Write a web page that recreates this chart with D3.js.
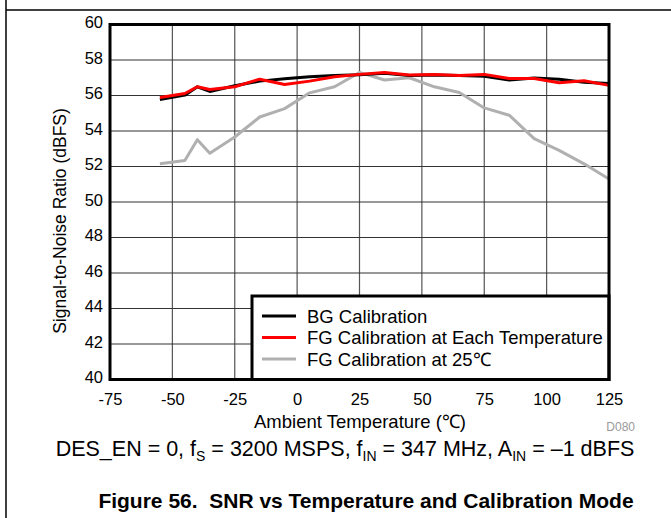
<!DOCTYPE html>
<html><head><meta charset="utf-8">
<script src="https://cdn.jsdelivr.net/npm/d3@7"></script>
<style>body{margin:0;background:#fff}svg{display:block}text{font-family:"Liberation Sans",Arial,sans-serif}</style>
</head><body>
<svg id="c" width="671" height="518"></svg>
<script>
const temps = [-55,-45,-40,-35,-25,-15,-5,5,15,25,35,45,55,65,75,85,95,105,115,125];
const bgCal = [55.77,56.02,56.49,56.23,56.55,56.81,56.94,57.06,57.13,57.17,57.25,57.13,57.15,57.13,57.09,56.87,56.98,56.92,56.75,56.68];
const fgEach = [55.89,56.11,56.49,56.34,56.49,56.92,56.62,56.81,57.06,57.19,57.30,57.15,57.19,57.13,57.19,56.96,56.96,56.72,56.83,56.57];
const fg25 = [52.15,52.34,53.51,52.75,53.66,54.79,55.26,56.15,56.49,57.30,56.87,57.0,56.49,56.17,55.30,54.89,53.57,52.91,52.15,51.3];
const xTicks = [-75,-50,-25,0,25,50,75,100,125];
const yTicks = [40,42,44,46,48,50,52,54,56,58,60];
const seriesNames = ["BG Calibration","FG Calibration at Each Temperature","FG Calibration at 25\u2103"];
const seriesColors = ["#000000","#ff0000","#b0b0b0"];

const svg = d3.select("#c");
const L=110, R=609, T=24.5, B=379.5;
const x = d3.scaleLinear().domain([-75,125]).range([L,R]);
const y = d3.scaleLinear().domain([40,60]).range([B,T]);

// outer frame
svg.append("line").attr("x1",6).attr("x2",6).attr("y1",0).attr("y2",518).attr("stroke","#000").attr("stroke-width",1.5);
svg.append("line").attr("x1",6).attr("x2",671).attr("y1",10).attr("y2",10).attr("stroke","#000").attr("stroke-width",1.5);

// grid
const g = svg.append("g");
g.selectAll(".vg").data(xTicks.slice(1,-1)).join("line")
 .attr("x1",d=>x(d)).attr("x2",d=>x(d)).attr("y1",T).attr("y2",B)
 .attr("stroke","#555").attr("stroke-width",1.2);
g.selectAll(".hg").data(yTicks.slice(1,-1)).join("line")
 .attr("x1",L).attr("x2",R).attr("y1",d=>y(d)).attr("y2",d=>y(d))
 .attr("stroke","#333").attr("stroke-width",1.1);

// axes (labels only)
const xAxis = d3.axisBottom(x).tickValues(xTicks).tickSize(0).tickPadding(14).tickFormat(d=>String(d));
const xa = svg.append("g").attr("transform",`translate(0,${B})`).call(xAxis);
xa.select(".domain").remove();
xa.selectAll("text").attr("font-size",16.5).attr("fill","#000").attr("font-family","Liberation Sans, Arial, sans-serif");
const yAxis = d3.axisLeft(y).tickValues(yTicks).tickSize(0).tickPadding(7).tickFormat(d=>String(d));
const ya = svg.append("g").attr("transform",`translate(${L},0)`).call(yAxis);
ya.select(".domain").remove();
ya.selectAll("text").attr("font-size",16.5).attr("fill","#000").attr("font-family","Liberation Sans, Arial, sans-serif").attr("dy","0.2em");

// lines
const line = d3.line().x((d,i)=>x(temps[i])).y(d=>y(d));
const allSeries = [fg25, bgCal, fgEach];
const allColors = [seriesColors[2], seriesColors[0], seriesColors[1]];
allSeries.forEach((s,i)=>{
  svg.append("path").datum(s).attr("d",line).attr("fill","none")
   .attr("stroke",allColors[i]).attr("stroke-width",3).attr("stroke-linejoin","round");
});

// legend
const lg = svg.append("g");
lg.append("rect").attr("x",252).attr("y",296).attr("width",R-252).attr("height",B-296)
  .attr("fill","#fff").attr("stroke","#000").attr("stroke-width",3);
seriesNames.forEach((n,i)=>{
  const yy = 316 + i*21.5;
  lg.append("line").attr("x1",262).attr("x2",296).attr("y1",yy).attr("y2",yy)
    .attr("stroke",seriesColors[i]).attr("stroke-width",3);
  lg.append("text").attr("x",307).attr("y",yy+6.5).attr("font-size",18.5).text(n);
});

// plot border
svg.append("rect").attr("x",L).attr("y",T).attr("width",R-L).attr("height",B-T)
  .attr("fill","none").attr("stroke","#000").attr("stroke-width",3);

// titles
svg.append("text").attr("x",360).attr("y",428).attr("text-anchor","middle").attr("font-size",18.5).text("Ambient Temperature (\u2103)");
svg.append("text").attr("transform",`translate(66,221) rotate(-90)`).attr("text-anchor","middle").attr("font-size",17.5).text("Signal-to-Noise Ratio (dBFS)");
svg.append("text").attr("x",635).attr("y",431).attr("text-anchor","end").attr("font-size",12).attr("fill","#999").text("D080");

// condition line
const cond = svg.append("text").attr("x",345).attr("y",456).attr("text-anchor","middle").attr("font-size",21.5);
cond.append("tspan").text("DES_EN = 0, f");
cond.append("tspan").attr("font-size",14).attr("dy",5).text("S");
cond.append("tspan").attr("dy",-5).text(" = 3200 MSPS, f");
cond.append("tspan").attr("font-size",14).attr("dy",5).text("IN");
cond.append("tspan").attr("dy",-5).text(" = 347 MHz, A");
cond.append("tspan").attr("font-size",14).attr("dy",5).text("IN");
cond.append("tspan").attr("dy",-5).text(" = \u20131 dBFS");

svg.append("text").attr("x",366).attr("y",508).attr("text-anchor","middle").attr("font-size",21).attr("font-weight","bold").text("Figure 56.\u00a0 SNR vs Temperature and Calibration Mode");
</script>
</body></html>
